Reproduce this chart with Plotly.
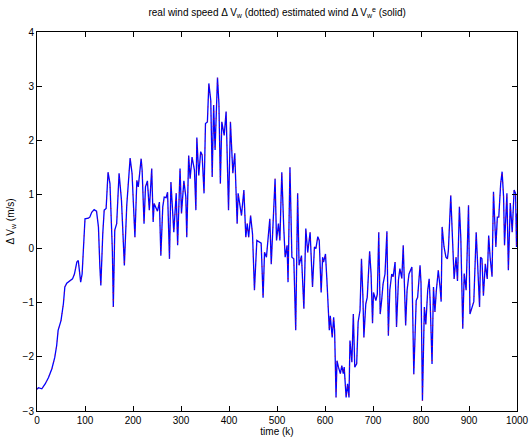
import plotly.graph_objects as go

# time samples (k) and estimated wind deviation (m/s)
time_k = [0, 3, 10, 17, 24, 31, 37, 41, 44, 50, 55, 58, 62, 69, 74, 78, 83, 86, 88, 91, 94, 98,
          100, 107, 110, 114, 119, 124, 128, 131, 133, 137, 140, 144, 148, 152, 157, 159, 162, 166,
          171, 176, 182, 187, 194, 198, 204, 208, 211, 217, 219, 223, 226, 230, 234, 239, 242, 244,
          247, 251, 255, 258, 262, 265, 269, 272, 276, 279, 282, 285, 290, 293, 298, 301, 306, 310,
          312, 316, 319, 323, 328, 331, 333, 337, 341, 344, 348, 351, 355, 358, 362, 365, 368, 371,
          376, 379, 382, 385, 390, 394, 399, 403, 408, 412, 417, 419, 426, 431, 435, 438, 441, 445,
          449, 453, 458, 464, 467, 471, 474, 478, 481, 485, 488, 492, 496, 499, 503, 506, 510, 514,
          517, 521, 523, 527, 531, 535, 539, 543, 546, 551, 556, 560, 564, 569, 574, 578, 581, 585,
          588, 592, 595, 597, 601, 604, 609, 611, 615, 618, 620, 623, 625, 628, 632, 635, 638, 640,
          642, 644, 647, 650, 652, 656, 659, 662, 666, 669, 673, 676, 679, 681, 685, 688, 693, 696,
          699, 701, 706, 709, 712, 715, 718, 721, 725, 729, 732, 735, 739, 742, 746, 749, 753, 756,
          760, 763, 768, 771, 775, 781, 785, 790, 793, 798, 800, 803, 807, 810, 814, 817, 819, 823,
          826, 829, 832, 836, 840, 842, 844, 848, 852, 855, 857, 862, 866, 869, 873, 876, 880, 883,
          887, 890, 894, 899, 902, 906, 910, 915, 918, 922, 924, 927, 930, 934, 938, 941, 944, 948,
          951, 953, 956, 959, 962, 966, 969, 972, 974, 979, 982, 986, 990, 994, 997, 999, 1000]

estimated_wind = [-2.6, -2.57, -2.59, -2.5, -2.38, -2.22, -2.01, -1.79, -1.51, -1.33, -1.02, -0.71,
                  -0.64, -0.59, -0.56, -0.47, -0.25, -0.22, -0.4, -0.62, -0.47, 0.27,
                  0.55, 0.56, 0.58, 0.67, 0.72, 0.69, 0.4, -0.34, -0.68, 0.27, 0.71, 0.74, 1.41, 1.2,
                  -0.03, -1.08, 0.34, 0.46,
                  1.39, 0.89, -0.31, 0.8, 1.67, 1.39, 0.21, 1.26, 1.14, 1.66, 1.45, 0.46, 1.14, 1.25,
                  0.71, 1.48, 0.49, 0.83,
                  0.77, 0.69, 0.86, -0.13, 0.77, 0.95, 0.94, 1.04, -0.19, 1.23, 0.77, 0.3, 1.02, 0.06,
                  1.48, 0.65, 1.25, 0.96,
                  0.21, 1.72, 1.29, 1.69, 1.45, 0.71, 2.05, 1.35, 1.79, 1.73, 1.02, 2.31, 2.34, 3.05,
                  2.74, 1.32, 2.65, 1.82,
                  3.16, 2.68, 1.2, 2.34, 2.09, 2.53, 0.71, 2.34, 1.39, 1.76, 0.46, 1.02, 0.61, 1.08,
                  0.21, 0.46, 0.21, 0.61,
                  0.27, -0.77, 0.15, 0.12, 0.1, -0.91, -0.07, -0.16, 0.21, 0.55, -0.29, 0.67, 1.29,
                  0.15, 0.46, 0.15, 1.41, 0.4,
                  -0.16, 0.06, -0.62, 1.5, -0.16, -0.19, -1.51, 1.02, -0.31, -0.13, -1.11, 0.37, -0.07,
                  0.3, -0.71, 0.03, 0.0, 0.22,
                  0.15, -0.81, -0.16, -0.25, -0.1, -0.59, -1.51, -1.24, -1.64, -1.27, -1.51, -2.75,
                  -2.07, -2.19, -2.31, -2.16, -2.31, -2.19,
                  -2.44, -2.75, -2.5, -2.75, -1.7, -2.1, -1.21, -2.19, -2.13, -1.36, -1.14, -0.19,
                  -0.9, -1.64, -1.02, -0.9, -0.05, -0.47,
                  -1.38, -0.81, -0.96, -0.84, 0.3, -1.21, -0.96, -0.65, -0.47, 0.32, -1.61, -0.77,
                  -0.47, -0.52, -0.25, -1.45, -0.58, -0.37,
                  -0.55, 0.06, -1.42, -0.77, -0.47, -0.34, -2.32, -0.96, -0.9, -0.31, -0.63, -2.81,
                  -1.08, -1.4, -0.77, -0.56, -0.96, -2.13,
                  -0.71, -1.17, -0.77, -0.4, -0.74, -0.98, 0.4, 0.03, -0.16, -0.19, -0.04, 0.98, 0.1,
                  -0.56, -0.16, -0.6, 0.77, 0.18,
                  -1.48, -0.46, -0.77, 0.8, -1.21, -1.08, -0.98, 0.3, -0.4, -1.08, -0.16, -0.19, -0.87,
                  -0.28, -0.56, 0.24, -0.16, -0.52,
                  1.05, 0.58, 0.03, 0.58, 0.58, 1.2, 1.42, 0.96, 0.06, 1.02, -0.4, 0.84, 0.3, 1.08,
                  1.02, 0.03, 0.65]

# real wind follows the estimate almost exactly (hidden under the solid line)
real_wind = list(estimated_wind)

x_ticks = [0, 100, 200, 300, 400, 500, 600, 700, 800, 900, 1000]
y_ticks = [-3, -2, -1, 0, 1, 2, 3, 4]

fig = go.Figure()
fig.add_trace(go.Scatter(x=time_k, y=estimated_wind, mode="lines",
                         line=dict(color="#0000ff", width=1.3), name="estimated"))
fig.add_trace(go.Scatter(x=time_k, y=real_wind, mode="lines",
                         line=dict(color="#ff0000", width=1, dash="1px,6px"),
                         opacity=0.6, name="real"))

font = dict(family="Liberation Sans, Arial, Helvetica, sans-serif", size=10, color="black")

fig.update_layout(
    width=529, height=441,
    margin=dict(l=37, r=12, t=32, b=30),
    paper_bgcolor="white", plot_bgcolor="white",
    showlegend=False,
    font=font,
    title=dict(text="real wind speed Δ V<sub>w</sub> (dotted) estimated wind Δ V<sub>w</sub><sup>e</sup> (solid)",
               x=0.524, xanchor="center", y=0.972, yanchor="middle",
               font=dict(family=font["family"], size=10, color="black")),
)
fig.update_xaxes(range=[0, 1000], tickvals=x_ticks, ticktext=[str(v) for v in x_ticks],
                 ticks="inside", ticklen=5, tickcolor="black", tickwidth=1,
                 showline=True, linecolor="black", linewidth=1, mirror="ticks",
                 showgrid=False, zeroline=False, automargin=False,
                 title=dict(text="time (k)", standoff=2, font=font),
                 tickfont=font)
fig.update_yaxes(range=[-3, 4], tickvals=y_ticks,
                 ticks="inside", ticklen=5, tickcolor="black", tickwidth=1,
                 showline=True, linecolor="black", linewidth=1, mirror="ticks",
                 showgrid=False, zeroline=False, automargin=False,
                 title=dict(text="Δ V<sub>w</sub> (m/s)", standoff=6, font=font),
                 tickfont=font)

fig.write_html("out.html")
